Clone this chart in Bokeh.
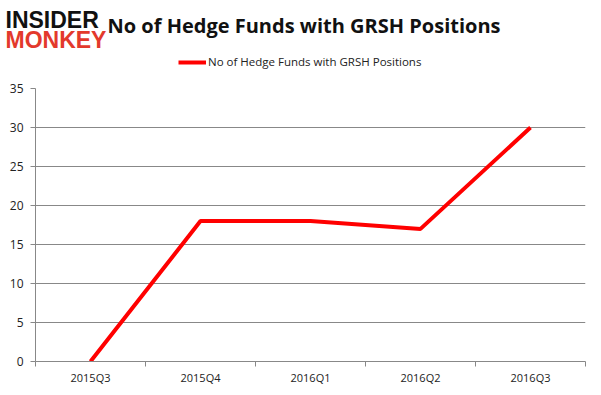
from bokeh.plotting import figure
from bokeh.layouts import column
from bokeh.models import Range1d, FixedTicker, Label, Legend, LegendItem, ColumnDataSource
from bokeh.embed import file_html
from bokeh.resources import INLINE

categories = ["2015Q3", "2015Q4", "2016Q1", "2016Q2", "2016Q3"]
hedge_funds = [0, 18, 18, 17, 30]
y_ticks = [0, 5, 10, 15, 20, 25, 30, 35]
series_name = "No of Hedge Funds with GRSH Positions"
title_text = "No of Hedge Funds with GRSH Positions"

FONT = "Open Sans"
GRID = "#888888"
RED = "#ff0000"
W = 600
HEAD_H = 76
CHART_H = 318

# ---------------- header (logo, title, legend) ----------------
head = figure(width=W, height=HEAD_H, output_backend="svg", toolbar_location=None,
              x_range=Range1d(0, W), y_range=Range1d(0, HEAD_H),
              min_border_left=0, min_border_right=0, min_border_top=0, min_border_bottom=0)
head.frame_align = False
head.xaxis.visible = False
head.yaxis.visible = False
head.grid.visible = False
head.outline_line_color = None
head.background_fill_color = "white"
head.border_fill_color = "white"

key = head.line(x=[float("nan")], y=[float("nan")], line_color=RED, line_width=4)
legend = Legend(items=[LegendItem(label=series_name, renderers=[key])],
                location=(178, 7), orientation="horizontal",
                padding=0, margin=0, spacing=0, border_line_color=None,
                background_fill_alpha=0, glyph_width=28, glyph_height=14,
                label_height=14, label_standoff=2,
                label_text_font=FONT, label_text_font_size="11.5px",
                label_text_color="#222222")
head.add_layout(legend, "center")

head.add_layout(Label(x=107, y=HEAD_H - 25, x_units="screen", y_units="screen", text=title_text,
                      text_font=FONT, text_font_size="20px", text_font_style="bold",
                      text_color="#111111", text_baseline="middle", text_align="left"))
head.add_layout(Label(x=5, y=HEAD_H - 19, x_units="screen", y_units="screen", text="INSIDER",
                      text_font="Liberation Sans", text_font_size="23px", text_font_style="bold",
                      text_color="#111111", text_baseline="middle", text_align="left"))
head.add_layout(Label(x=5, y=HEAD_H - 39, x_units="screen", y_units="screen", text="MONKEY",
                      text_font="Liberation Sans", text_font_size="23px", text_font_style="bold",
                      text_color="#e3392c", text_baseline="middle", text_align="left"))

# ---------------- chart ----------------
x_pos = [i + 0.5 for i in range(len(categories))]
src = ColumnDataSource(dict(x=x_pos, y=hedge_funds, cat=categories))

p = figure(width=W, height=CHART_H, output_backend="svg", toolbar_location=None,
           x_range=Range1d(0, len(categories)), y_range=Range1d(0, 35),
           min_border_left=35, min_border_right=15, min_border_top=12, min_border_bottom=33)
p.frame_align = False
p.outline_line_color = None
p.background_fill_color = "white"
p.border_fill_color = "white"

r = p.line("x", "y", source=src, line_color=RED, line_width=4)

p.xaxis.ticker = FixedTicker(ticks=x_pos, minor_ticks=list(range(len(categories) + 1)))
p.xaxis.major_label_overrides = {x: c for x, c in zip(x_pos, categories)}
p.xaxis.major_tick_line_color = None
p.xaxis.major_tick_out = 0
p.xaxis.major_tick_in = 0
p.xaxis.minor_tick_line_color = GRID
p.xaxis.minor_tick_out = 5
p.xaxis.minor_tick_in = 0
p.xaxis.axis_line_color = GRID
p.xaxis.major_label_text_font = FONT
p.xaxis.major_label_text_font_size = "11px"
p.xaxis.major_label_text_color = "#222222"
p.xaxis.major_label_standoff = 3

p.yaxis.ticker = FixedTicker(ticks=y_ticks)
p.yaxis.minor_tick_line_color = None
p.yaxis.major_tick_line_color = GRID
p.yaxis.major_tick_out = 5
p.yaxis.major_tick_in = 0
p.yaxis.axis_line_color = GRID
p.yaxis.major_label_text_font = FONT
p.yaxis.major_label_text_font_size = "12px"
p.yaxis.major_label_text_color = "#222222"
p.yaxis.major_label_standoff = 7

p.xgrid.grid_line_color = None
p.ygrid.grid_line_color = GRID
p.ygrid.ticker = FixedTicker(ticks=y_ticks)

layout = column(head, p, spacing=0)
open("out.html", "w").write(file_html(layout, INLINE))
